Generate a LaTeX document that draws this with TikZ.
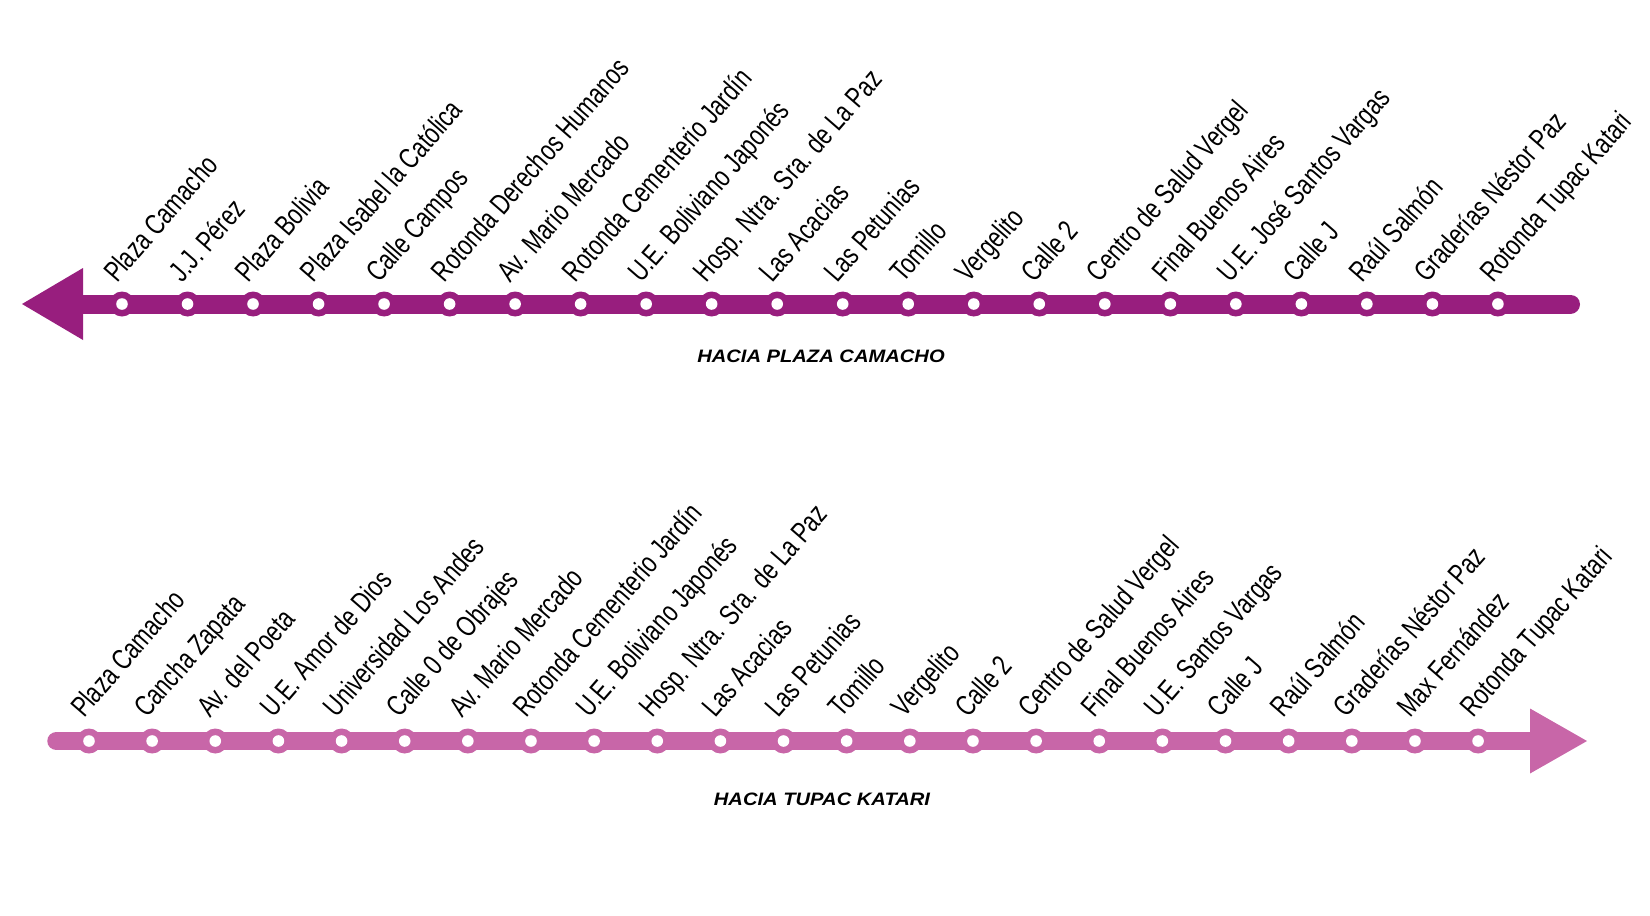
\documentclass[tikz,border=0pt]{standalone}
\usepackage{fontspec}
\setmainfont{Liberation Sans}
\newfontfamily\condfont[FakeStretch=0.76]{Liberation Sans}
\newfontfamily\titlefont[FakeStretch=1.12]{Liberation Sans}
\definecolor{upline}{RGB}{152,30,126}
\definecolor{downline}{RGB}{200,102,168}
\tikzset{
  stationdot/.style={circle, inner sep=0pt, minimum size=25pt, fill=#1},
  stoplabel/.style={anchor=base west, inner sep=0pt, rotate=49, font=\condfont\fontsize{29}{29}\selectfont, text=black},
  routetitle/.style={font=\titlefont\bfseries\itshape\fontsize{18}{18}\selectfont, text=black, inner sep=0pt},
}
\begin{document}
\begin{tikzpicture}[x=1pt,y=-1pt]
\useasboundingbox (0,0) rectangle (1650,916);
% upper route
\coordinate (utip) at (22,304);
\coordinate (uback) at (83,304);
\coordinate (uend) at (1570.5,304);
\draw[upline, line width=19pt, line cap=round] (uback) -- (uend);
\fill[upline] (utip) -- (83,268) -- (83,340) -- cycle;
\foreach [count=\i] \name in {Plaza Camacho, J.J. Pérez, Plaza Bolivia, Plaza Isabel la Católica, Calle Campos, Rotonda Derechos Humanos, Av. Mario Mercado, Rotonda Cementerio Jardín, U.E. Boliviano Japonés, Hosp. Ntra. Sra. de La Paz, Las Acacias, Las Petunias, Tomillo, Vergelito, Calle 2, Centro de Salud Vergel, Final Buenos Aires, U.E. José Santos Vargas, Calle J, Raúl Salmón, Graderías Néstor Paz, Rotonda Tupac Katari} {
  \pgfmathsetmacro\xx{122+(\i-1)*65.52}
  \node[stationdot=upline] (u\i) at (\xx,304) {};
  \fill[white] (u\i.center) circle (5.8);
  \node[stoplabel] (ul\i) at (\xx-5,284) {\name};
}
\node[routetitle] (utitle) at (821,356) {HACIA PLAZA CAMACHO};
% lower route
\coordinate (dstart) at (56.5,741);
\coordinate (dback) at (1530,741);
\coordinate (dtip) at (1587,741);
\draw[downline, line width=18.5pt, line cap=round] (dstart) -- (dback);
\fill[downline] (dtip) -- (1530,708.5) -- (1530,773.5) -- cycle;
\foreach [count=\i] \name in {Plaza Camacho, Cancha Zapata, Av. del Poeta, U.E. Amor de Dios, Universidad Los Andes, Calle 0 de Obrajes, Av. Mario Mercado, Rotonda Cementerio Jardín, U.E. Boliviano Japonés, Hosp. Ntra. Sra. de La Paz, Las Acacias, Las Petunias, Tomillo, Vergelito, Calle 2, Centro de Salud Vergel, Final Buenos Aires, U.E. Santos Vargas, Calle J, Raúl Salmón, Graderías Néstor Paz, Max Fernández, Rotonda Tupac Katari} {
  \pgfmathsetmacro\xx{89+(\i-1)*63.14}
  \node[stationdot=downline] (d\i) at (\xx,741) {};
  \fill[white] (d\i.center) circle (5.8);
  \node[stoplabel] (dl\i) at (\xx-5,719) {\name};
}
\node[routetitle] (dtitle) at (822,799) {HACIA TUPAC KATARI};
\end{tikzpicture}
\end{document}
